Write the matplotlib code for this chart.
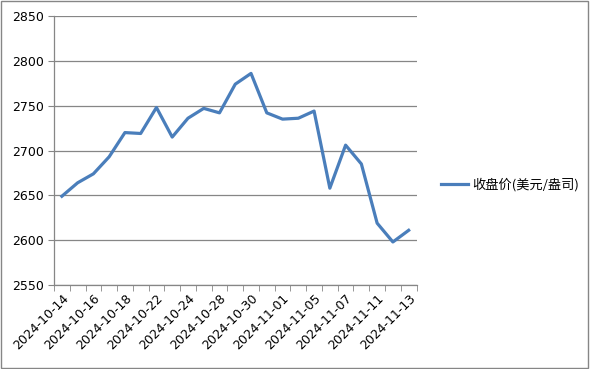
import matplotlib
matplotlib.use("Agg")
import matplotlib.pyplot as plt
from matplotlib.patches import Rectangle

dates = ["2024-10-14", "2024-10-15", "2024-10-16", "2024-10-17", "2024-10-18",
         "2024-10-21", "2024-10-22", "2024-10-23", "2024-10-24", "2024-10-25",
         "2024-10-28", "2024-10-29", "2024-10-30", "2024-10-31", "2024-11-01",
         "2024-11-04", "2024-11-05", "2024-11-06", "2024-11-07", "2024-11-08",
         "2024-11-11", "2024-11-12", "2024-11-13"]
prices = [2649, 2664, 2674, 2693, 2720, 2719, 2748, 2715, 2736, 2747,
          2742, 2774, 2786, 2742, 2735, 2736, 2744, 2658, 2706, 2685,
          2619, 2598, 2611]
series_name = "收盘价(美元/盎司)"
yticks = [2550, 2600, 2650, 2700, 2750, 2800, 2850]

plt.rcParams['font.family'] = ['DejaVu Sans', 'Noto Sans CJK SC']

fig = plt.figure(figsize=(5.9, 3.69), dpi=100)
ax = fig.add_axes([0.0915, 0.2276, 0.6145, 0.729])

x = list(range(len(dates)))
line, = ax.plot(x, prices, color="#4A7EBB", linewidth=2.3, label=series_name,
                solid_joinstyle='round')

ax.set_xlim(-0.5, len(dates) - 0.5)
ax.set_ylim(yticks[0], yticks[-1])
ax.set_yticks(yticks)
ax.set_yticklabels([str(v) for v in yticks], fontsize=9)
ax.grid(axis='y', color="#868686", linewidth=0.9)
ax.set_axisbelow(True)

# category ticks at boundaries, labels every other category
ax.set_xticks([i - 0.5 for i in range(len(dates) + 1)], minor=True)
ax.set_xticks(x[::2])
ax.set_xticklabels(dates[::2], rotation=45, ha='right', rotation_mode='anchor', fontsize=9)
ax.tick_params(axis='x', which='major', length=0, pad=5)
ax.tick_params(axis='x', which='minor', length=4, color="#868686", direction='out')
ax.tick_params(axis='y', length=4, color="#868686", direction='out')

for s in ['top', 'right']:
    ax.spines[s].set_visible(False)
for s in ['left', 'bottom']:
    ax.spines[s].set_color("#868686")
    ax.spines[s].set_linewidth(0.9)

leg = fig.legend(handles=[line], labels=[series_name], loc='center left',
                 bbox_to_anchor=(0.728, 0.5), frameon=False,
                 handlelength=2.0, handletextpad=0.3,
                 prop={'family': ['Noto Sans CJK SC'], 'size': 9.5})

fig.patches.append(Rectangle((0.002, 0.003), 0.994, 0.994, transform=fig.transFigure,
                             fill=False, edgecolor="#868686", linewidth=1.0))

fig.savefig("out.png", dpi=100)
